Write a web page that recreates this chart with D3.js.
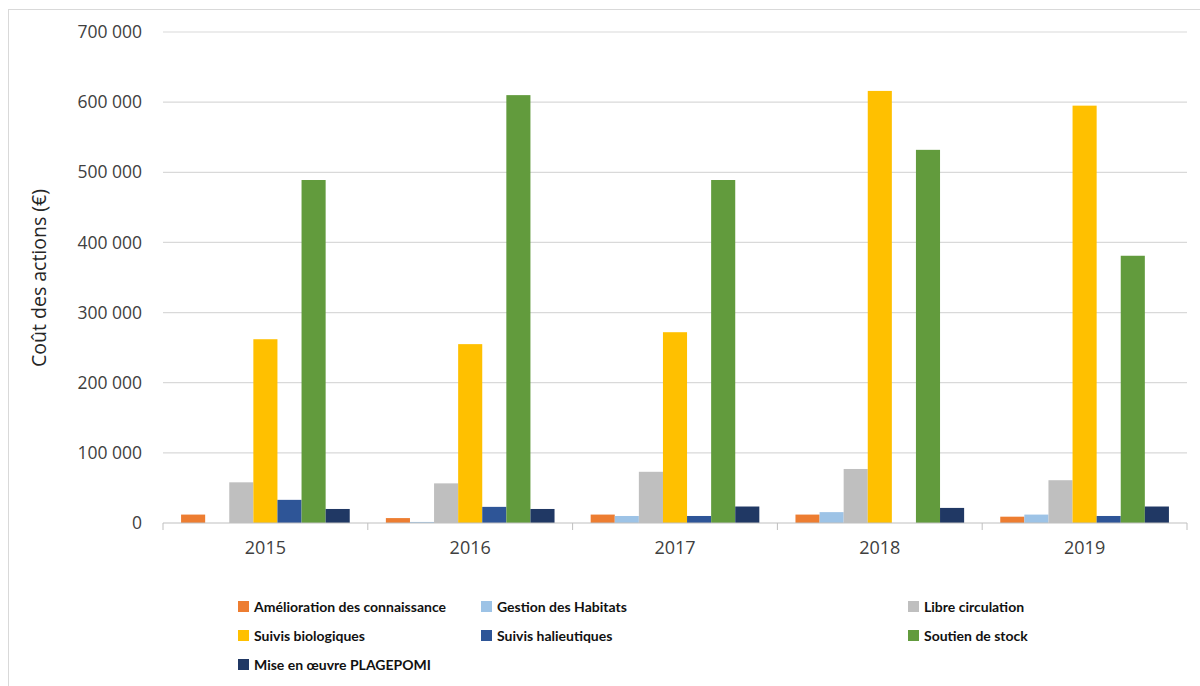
<!DOCTYPE html>
<html>
<head>
<meta charset="utf-8">
<script src="https://cdn.jsdelivr.net/npm/d3@7"></script>
<style>
  body { margin: 0; background: #fff; }
  svg { display: block; }
</style>
</head>
<body>
<script>
// Data
let years = ["2015", "2016", "2017", "2018", "2019"];
let seriesNames = [
  "Amélioration des connaissance",
  "Gestion des Habitats",
  "Libre circulation",
  "Suivis biologiques",
  "Suivis halieutiques",
  "Soutien de stock",
  "Mise en œuvre PLAGEPOMI"
];
let amelioration = [12000, 7000, 12000, 12000, 9000];
let gestion = [0, 1500, 10000, 15500, 12000];
let libre = [58000, 56500, 73000, 77000, 61000];
let suivisBio = [262000, 255000, 272000, 616000, 595000];
let suivisHal = [33000, 23000, 10000, 0, 10000];
let soutien = [489000, 610000, 489000, 532000, 381000];
let miseEnOeuvre = [20000, 20000, 23500, 21500, 23500];
let yTicks = [0, 100000, 200000, 300000, 400000, 500000, 600000, 700000];

let colors = ["#ED7D31", "#9DC3E6", "#BFBFBF", "#FFC000", "#2E5597", "#629B3D", "#203864"];
let allValues = [amelioration, gestion, libre, suivisBio, suivisHal, soutien, miseEnOeuvre];

// Dimensions
let svgWidth = 1200;
let svgHeight = 686;
let margin = { top: 32, left: 163, right: 13, bottom: 163 };
let chartWidth = svgWidth - margin.left - margin.right;
let chartHeight = svgHeight - margin.top - margin.bottom;

let svg = d3.select("body")
            .append("svg")
            .attr("width", svgWidth)
            .attr("height", svgHeight);

// outer frame
svg.append("rect")
   .attr("x", 8.5).attr("y", 9.5)
   .attr("width", 1220).attr("height", 720)
   .attr("fill", "none").attr("stroke", "#d9d9d9");

let chartGroup = svg.append("g")
                    .attr("transform", `translate(${margin.left}, ${margin.top})`);

// scales
let xScale = d3.scaleBand().domain(years).range([0, chartWidth]);
let xInner = d3.scaleBand().domain(seriesNames).range([0, xScale.bandwidth()]).paddingOuter(0.75);
let yScale = d3.scaleLinear().domain([0, 700000]).range([chartHeight, 0]);

// gridlines
chartGroup.selectAll(".grid")
          .data(yTicks.slice(1))
          .enter()
          .append("line")
          .attr("x1", 0).attr("x2", chartWidth)
          .attr("y1", d => yScale(d)).attr("y2", d => yScale(d))
          .attr("stroke", "#d9d9d9").attr("stroke-width", 1.2);

// y axis labels
let fmt = d => d3.format(",")(d).replace(/,/g, " ");
let yAxis = d3.axisLeft(yScale).tickValues(yTicks).tickFormat(fmt).tickSize(0).tickPadding(21);
let yG = chartGroup.append("g").call(yAxis);
yG.select(".domain").remove();
yG.selectAll("text")
  .attr("font-family", "Open Sans").attr("font-size", 17.5).attr("fill", "#404040");

// bars
let rows = [];
years.forEach((yr, i) => {
  seriesNames.forEach((s, j) => {
    rows.push({ year: yr, series: s, value: allValues[j][i], color: colors[j] });
  });
});
chartGroup.selectAll(".bar")
          .data(rows)
          .enter()
          .append("rect")
          .attr("x", d => xScale(d.year) + xInner(d.series))
          .attr("y", d => yScale(d.value))
          .attr("width", xInner.bandwidth())
          .attr("height", d => chartHeight - yScale(d.value))
          .attr("fill", d => d.color);

// x axis
let xAxis = d3.axisBottom(xScale).tickSize(0).tickPadding(18);
let xG = chartGroup.append("g")
                   .attr("transform", `translate(0, ${chartHeight})`)
                   .call(xAxis);
xG.select(".domain").attr("stroke", "#bfbfbf").attr("d", `M0,0H${chartWidth}`);
xG.selectAll("text")
  .attr("font-family", "Open Sans").attr("font-size", 18).attr("fill", "#404040");
xG.selectAll(".sep")
  .data(years.concat(["end"]))
  .enter()
  .append("line")
  .attr("x1", (d, i) => i * xScale.step()).attr("x2", (d, i) => i * xScale.step())
  .attr("y1", 0).attr("y2", 7)
  .attr("stroke", "#bfbfbf");

// y axis title
svg.append("text")
   .attr("transform", `translate(46, 278) rotate(-90)`)
   .attr("text-anchor", "middle")
   .attr("font-family", "Open Sans").attr("font-size", 19.5)
   .attr("fill", "#262626")
   .text("Coût des actions (€)");

// legend
let legendX = [238, 481, 908];
let legendY = [607, 636, 665];
let legend = svg.selectAll(".legend")
                .data(seriesNames)
                .enter()
                .append("g")
                .attr("transform", (d, i) => `translate(${legendX[i % 3]}, ${legendY[Math.floor(i / 3)]})`);
legend.append("rect")
      .attr("x", 0).attr("y", -6)
      .attr("width", 11).attr("height", 11)
      .attr("fill", (d, i) => colors[i]);
legend.append("text")
      .attr("x", 16).attr("y", 0)
      .attr("dy", "0.35em")
      .attr("font-family", "Lato").attr("font-weight", "bold").attr("font-size", 14)
      .attr("fill", "#111")
      .text(d => d);
</script>
</body>
</html>
